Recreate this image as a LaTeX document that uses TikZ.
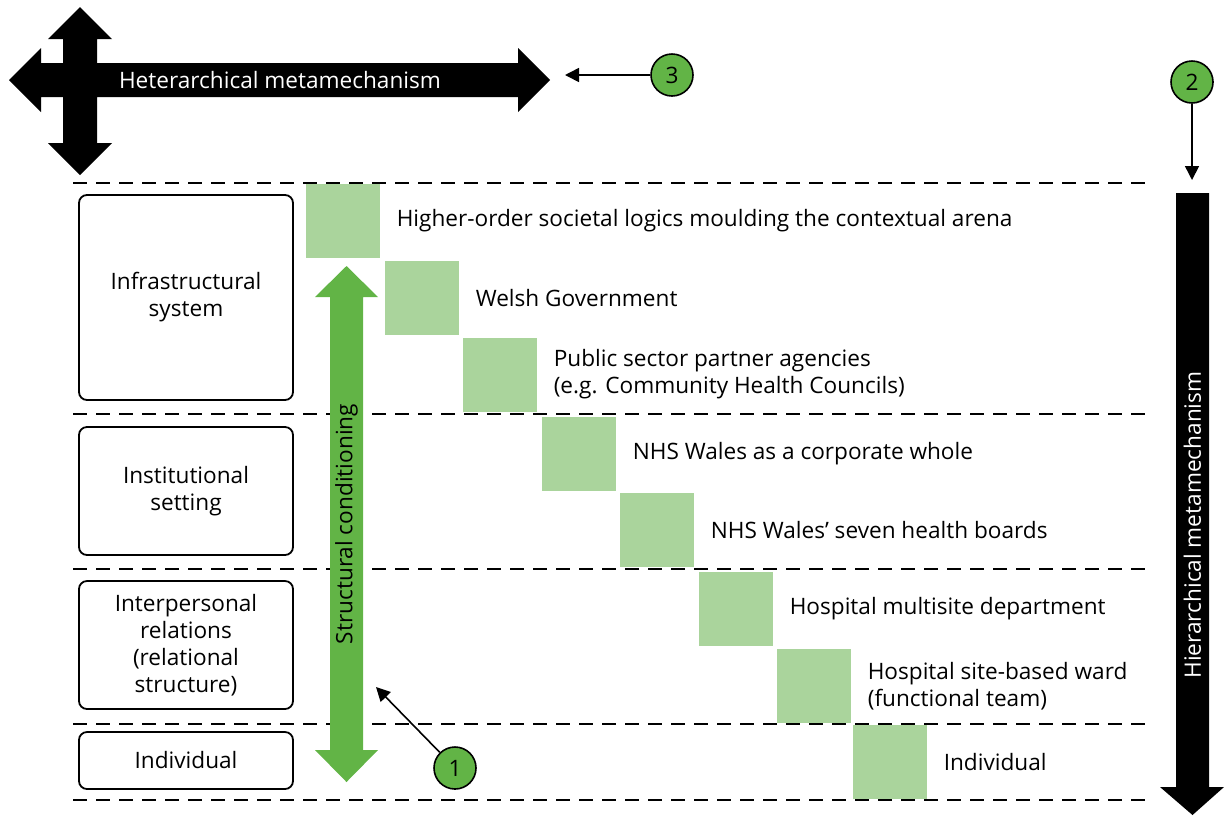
\documentclass[tikz,border=0pt]{standalone}
\usepackage{fontspec}
\setmainfont{Open Sans}
\usepackage{tikz}
\usetikzlibrary{positioning}
\usetikzlibrary{arrows.meta}
\definecolor{tiergreen}{HTML}{AAD49C}
\definecolor{markgreen}{HTML}{62B446}
\tikzset{>={Triangle[length=7pt,width=7pt]}}

\begin{document}
\begin{tikzpicture}[x=0.5pt, y=-0.5pt, font=\fontsize{11.3}{13.5}\selectfont,
    level/.style={draw, line width=0.9pt, rounded corners=4pt, align=center, minimum width=107pt, inner sep=2pt},
    tier/.style={fill=tiergreen, minimum size=37pt, inner sep=0pt},
    tierlabel/.style={right=8pt of #1, align=left, inner sep=0pt},
    marker/.style={circle, draw, line width=0.8pt, fill=markgreen, minimum size=21pt, inner sep=0pt},
    divider/.style={dash pattern=on 7pt off 4.5pt, line width=1.3pt}]
        \useasboundingbox (0,0) rectangle (1224,816);

        % 1. Dashed level dividers
        \foreach \y in {183,414,569,724,800}
            \draw[divider] (73,\y) -- (1152,\y);

        % 2. Levels on the left
        \node[level, minimum height=102.5pt] (infra) at (186,297.5) {Infrastructural\\system};
        \node[level, minimum height=64pt] (inst) at (186,491) {Institutional\\setting};
        \node[level, minimum height=64pt] (inter) at (186,645) {Interpersonal\\relations\\(relational\\structure)};
        \node[level, minimum height=28.5pt] (indiv) at (186,760.5) {Individual};

        % 3. Staircase of green squares and their labels
        \foreach \i/\x/\y in {1/343/221, 2/422/298, 3/500/374.5, 4/579/453.5,
                              5/657/530, 6/736/609, 7/814/686, 8/890/762}
            \node[tier] (sq\i) at (\x,\y) {};
        \foreach \i/\txt in {1/{Higher-order societal logics moulding the contextual arena},
                             2/{Welsh Government},
                             3/{Public sector partner agencies\\(e.g. Community Health Councils)},
                             4/{NHS Wales as a corporate whole},
                             5/{NHS Wales’ seven health boards},
                             6/{Hospital multisite department},
                             7/{Hospital site-based ward\\(functional team)},
                             8/{Individual}}
            \node[tierlabel=sq\i] (lab\i) {\txt};

        % 4. Structural conditioning (green double arrow)
        \fill[markgreen] (346.5,266) -- (378,297) -- (363,297) -- (363,750) -- (378,750)
            -- (346.5,782) -- (315,750) -- (330,750) -- (330,297) -- (315,297) -- cycle;
        \node[rotate=90] (cond) at (346.5,524) {Structural conditioning};

        % 5. Hierarchical metamechanism (black down arrow)
        \fill (1176,193) -- (1209,193) -- (1209,787) -- (1224,787) -- (1192.5,815)
            -- (1160,787) -- (1176,787) -- cycle;
        \node[rotate=90, text=white] (hier) at (1192.5,525) {Hierarchical metamechanism};

        % 6. Heterarchical metamechanism (four-way arrow)
        \fill (80,7) -- (112,39) -- (97,39) -- (97,63) -- (518,63) -- (518,48) -- (550,80)
            -- (518,112) -- (518,97) -- (97,97) -- (97,143) -- (112,143) -- (80,175)
            -- (48,143) -- (63,143) -- (63,97) -- (41,97) -- (41,112) -- (9,80)
            -- (41,48) -- (41,63) -- (63,63) -- (63,39) -- (48,39) -- cycle;
        \node[text=white] (heter) at (280,80) {Heterarchical metamechanism};

        % 7. Numbered markers
        \node[marker] (m1) at (455,768) {1};
        \node[marker] (m2) at (1192,82) {2};
        \node[marker] (m3) at (672,75) {3};
        \coordinate (tip1) at (376,687);
        \coordinate (tip2) at (1192,180);
        \coordinate (tip3) at (565,75);
        \draw[->, line width=0.8pt] (m1) -- (tip1);
        \draw[->, line width=0.8pt] (m2) -- (tip2);
        \draw[->, line width=0.8pt] (m3) -- (tip3);
    \end{tikzpicture}
\end{document}
